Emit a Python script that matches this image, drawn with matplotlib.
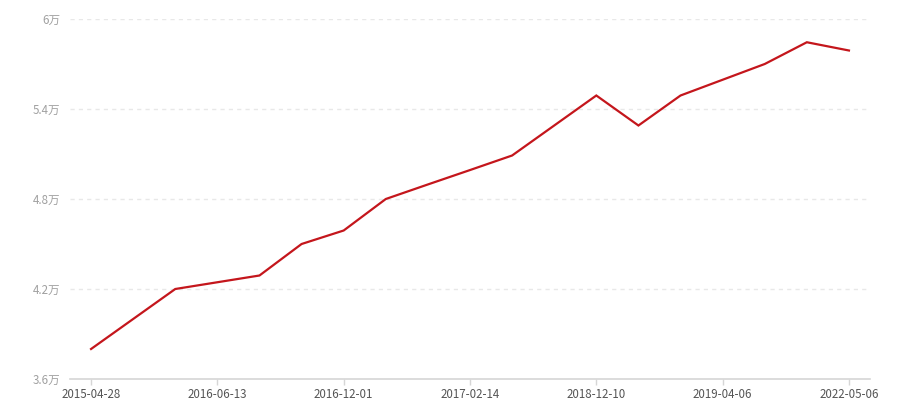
import matplotlib
matplotlib.use('Agg')
import matplotlib.pyplot as plt
from matplotlib.ticker import FuncFormatter, FixedLocator

plt.rcParams['font.family'] = ['Noto Sans CJK SC', 'DejaVu Sans']

# ------------------------------------------------------------
# Data (values in 万)
# ------------------------------------------------------------
dates = ['2015-04-28', '2015-09-01', '2016-01-15', '2016-06-13', '2016-08-10',
         '2016-10-05', '2016-12-01', '2016-12-20', '2017-01-10', '2017-02-14',
         '2017-06-20', '2018-05-08', '2018-12-10', '2019-01-15', '2019-02-20',
         '2019-04-06', '2020-07-01', '2021-06-10', '2022-05-06']
values = [3.80, 4.00, 4.20, 4.245, 4.29,
          4.50, 4.59, 4.80, 4.897, 4.993,
          5.09, 5.29, 5.49, 5.29, 5.49,
          5.595, 5.70, 5.845, 5.79]
y_ticks = [3.6, 4.2, 4.8, 5.4, 6.0]
label_step = 3

# ------------------------------------------------------------
# Figure
# ------------------------------------------------------------
fig = plt.figure(figsize=(9, 4), dpi=100)
ax = fig.add_axes([70 / 900, 21 / 400, 800 / 900, 360 / 400])

x = list(range(len(dates)))
ax.plot(x, values, color='#c4161c', linewidth=1.6, solid_joinstyle='miter', zorder=3)

ax.set_xlim(-0.5, len(dates) - 0.5)
ax.set_ylim(y_ticks[0], y_ticks[-1])

# y axis
ax.yaxis.set_major_locator(FixedLocator(y_ticks))
ax.yaxis.set_major_formatter(FuncFormatter(lambda v, p: f'{v:g}万'))
ax.tick_params(axis='y', length=0, pad=7, labelsize=8.3, labelcolor='#a0a0a0')
ax.grid(axis='y', color='#e8e8e8', linestyle=(0, (3, 3)), linewidth=1.0)

# x axis
tick_pos = x[::label_step]
ax.set_xticks(tick_pos)
ax.set_xticklabels([dates[i] for i in tick_pos])
ax.tick_params(axis='x', length=4, width=1, color='#d6d6d6', pad=2.5,
               labelsize=8.3, labelcolor='#555555')

for side in ['top', 'right', 'left']:
    ax.spines[side].set_visible(False)
ax.spines['bottom'].set_color('#d6d6d6')
ax.spines['bottom'].set_linewidth(1.2)
ax.set_axisbelow(True)

fig.savefig('out.png', dpi=100)
